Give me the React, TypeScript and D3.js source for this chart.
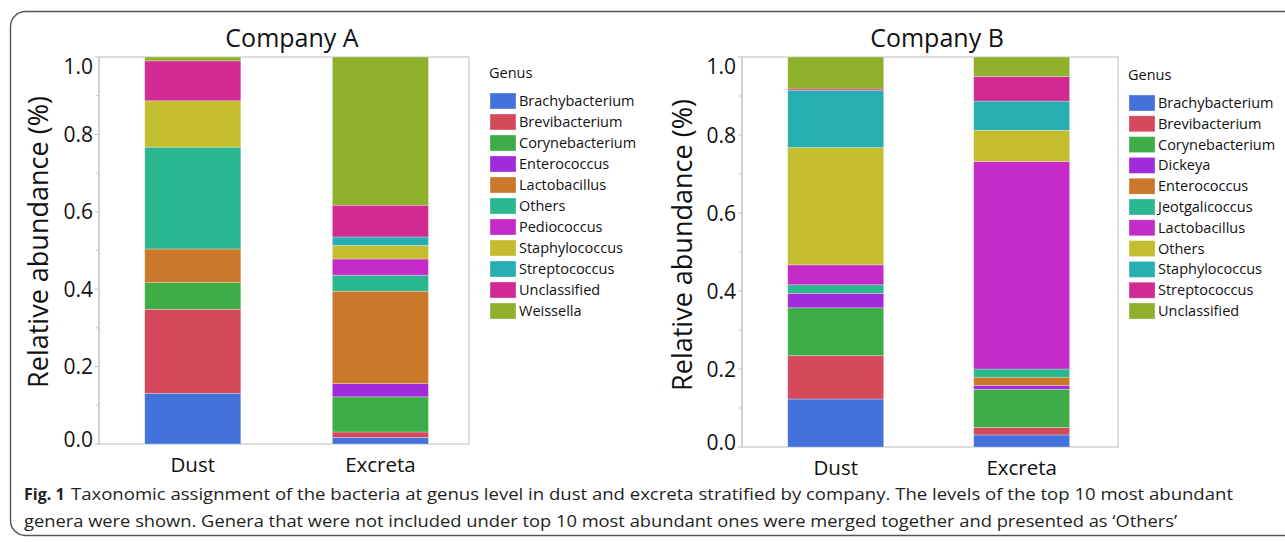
import React from "react";
import * as d3 from "d3";

// ---------- data ----------
const samples = ["Dust", "Excreta"];

const generaA = [
  "Brachybacterium", "Brevibacterium", "Corynebacterium", "Enterococcus", "Lactobacillus",
  "Others", "Pediococcus", "Staphylococcus", "Streptococcus", "Unclassified", "Weissella",
];
const companyADust = [0.131, 0.217, 0.069, 0.0, 0.087, 0.263, 0.0, 0.12, 0.0, 0.103, 0.01];
const companyAExcreta = [0.017, 0.014, 0.091, 0.034, 0.239, 0.041, 0.042, 0.035, 0.022, 0.082, 0.383];

const generaB = [
  "Brachybacterium", "Brevibacterium", "Corynebacterium", "Dickeya", "Enterococcus",
  "Jeotgalicoccus", "Lactobacillus", "Others", "Staphylococcus", "Streptococcus", "Unclassified",
];
const companyBDust = [0.123, 0.111, 0.123, 0.037, 0.0, 0.022, 0.051, 0.301, 0.146, 0.004, 0.082];
const companyBExcreta = [0.031, 0.019, 0.098, 0.01, 0.021, 0.021, 0.532, 0.08, 0.075, 0.063, 0.05];

const palette = [
  "#4472DC", "#D44A5A", "#3EAD47", "#A02BDC", "#CC782B", "#2AB68E",
  "#C42AC7", "#C4BD2E", "#27AEB1", "#D12A93", "#8EB02A",
];

const yTicks = [0, 0.2, 0.4, 0.6, 0.8, 1.0];
const yMinorTicks = [0.1, 0.3, 0.5, 0.7, 0.9];

const captionBold = "Fig. 1";
const captionLine1 =
  "Taxonomic assignment of the bacteria at genus level in dust and excreta stratified by company. The levels of the top 10 most abundant";
const captionLine2 =
  "genera were shown. Genera that were not included under top 10 most abundant ones were merged together and presented as \u2018Others\u2019";

const FONT = "'Open Sans', 'Noto Sans', sans-serif";

type PanelProps = {
  title: string;
  titleX: number;
  genera: string[];
  values: number[][];
  x0: number; x1: number; yTop: number; yBot: number;
  pIn: number; pOut: number; align: number;
  yTitleX: number; yTitleY: number;
  legendX: number; legendY: number; legendStep: number;
  frameRight: number;
};

function Panel(p: PanelProps) {
  const rows = samples.map((s, i) => {
    const r: any = { sample: s };
    p.genera.forEach((g, j) => (r[g] = p.values[i][j]));
    return r;
  });
  const stacked = d3.stack<any>().keys(p.genera)(rows);
  const x = d3.scaleBand<string>().domain(samples).range([p.x0, p.x1])
    .paddingInner(p.pIn).paddingOuter(p.pOut).align(p.align);
  const y = d3.scaleLinear().domain([0, 1]).range([p.yBot, p.yTop]);
  const grey = "#c8c8c8";
  const labelCenter = (t: number) => {
    const c = y(t);
    return Math.min(Math.max(c, p.yTop + 9), p.yBot - 4.5);
  };
  return (
    <g>
      <text x={p.titleX} y={47} textAnchor="middle" fontSize={25} fill="#111" fontFamily={FONT}>{p.title}</text>
      {/* plot frame */}
      <rect x={p.x0} y={p.yTop} width={p.frameRight - p.x0} height={p.yBot - p.yTop} fill="none" stroke={grey} strokeWidth={1.2} />
      {/* bars */}
      {stacked.map((layer, li) => (
        <g key={li} fill={palette[li]}>
          {layer.map((d: any, di: number) => {
            const h = y(d[0]) - y(d[1]);
            if (h <= 0) return null;
            return (
              <rect key={di} x={x(samples[di])} y={y(d[1])} width={x.bandwidth()} height={h}
                stroke="#ffffff" strokeOpacity={0.35} strokeWidth={0.8} />
            );
          })}
        </g>
      ))}
      {/* y axis */}
      <line x1={p.x0} x2={p.x0} y1={p.yTop} y2={p.yBot} stroke={grey} strokeWidth={1.2} />
      {yTicks.map((t) => (
        <g key={t}>
          <line x1={p.x0 - 4} x2={p.x0} y1={y(t)} y2={y(t)} stroke={grey} strokeWidth={1.2} />
          <text x={p.x0 - 6} y={labelCenter(t) + 7.5} textAnchor="end" fontSize={21} fill="#111" fontFamily={FONT}>{t.toFixed(1)}</text>
        </g>
      ))}
      {yMinorTicks.map((t) => (
        <line key={t} x1={p.x0 - 3} x2={p.x0} y1={y(t)} y2={y(t)} stroke={grey} strokeWidth={1} />
      ))}
      <text transform={`translate(${p.yTitleX},${p.yTitleY}) rotate(-90)`} textAnchor="middle"
        fontSize={27} fill="#111" fontFamily={FONT}>Relative abundance (%)</text>
      {/* x labels */}
      {samples.map((s) => (
        <text key={s} x={(x(s) as number) + x.bandwidth() / 2} y={p.yBot + 28} textAnchor="middle"
          fontSize={20.5} fill="#111" fontFamily={FONT}>{s}</text>
      ))}
      {/* legend */}
      <text x={p.legendX} y={p.legendY} fontSize={14.5} fill="#111" fontFamily={FONT}>Genus</text>
      {p.genera.map((g, i) => {
        const top = p.legendY + 15 + i * p.legendStep;
        return (
          <g key={g}>
            <rect x={p.legendX + 1} y={top} width={26} height={16} fill={palette[i]} stroke="#ffffff" strokeOpacity={0.4} strokeWidth={0.8} />
            <text x={p.legendX + 30} y={top + 13} fontSize={14.5} fill="#111" fontFamily={FONT}>{g}</text>
          </g>
        );
      })}
    </g>
  );
}

export default function App() {
  return (
    <svg width={1285} height={542} style={{ position: "absolute", left: 0, top: 0, background: "#fff" }}>
      <rect x={0} y={0} width={1285} height={542} fill="#fff" />
      <rect x={10.5} y={11.5} width={1320} height={524} rx={15} fill="none" stroke="#555" strokeWidth={1.4} />
      <Panel title="Company A" titleX={292} genera={generaA} values={[companyADust, companyAExcreta]}
        x0={99} x1={469} yTop={57} yBot={444} pIn={0.488} pOut={0.23} align={0.53}
        yTitleX={48} yTitleY={242} legendX={489} legendY={78} legendStep={21} frameRight={469} />
      <Panel title="Company B" titleX={937} genera={generaB} values={[companyBDust, companyBExcreta]}
        x0={742} x1={1118} yTop={57} yBot={447} pIn={0.484} pOut={0.253} align={0.486}
        yTitleX={692} yTitleY={245} legendX={1128} legendY={80} legendStep={20.8} frameRight={1118} />
      <text x={24} y={500} fontSize={16} fontFamily={FONT} fill="#231f20">
        <tspan fontWeight="bold">{captionBold}</tspan>
      </text>
      <text x={71} y={500} fontSize={16} fontFamily={FONT} fill="#231f20" textLength={1162} lengthAdjust="spacingAndGlyphs">{captionLine1}</text>
      <text x={24} y={527} fontSize={16} fontFamily={FONT} fill="#231f20" textLength={1153} lengthAdjust="spacingAndGlyphs">{captionLine2}</text>
    </svg>
  );
}
